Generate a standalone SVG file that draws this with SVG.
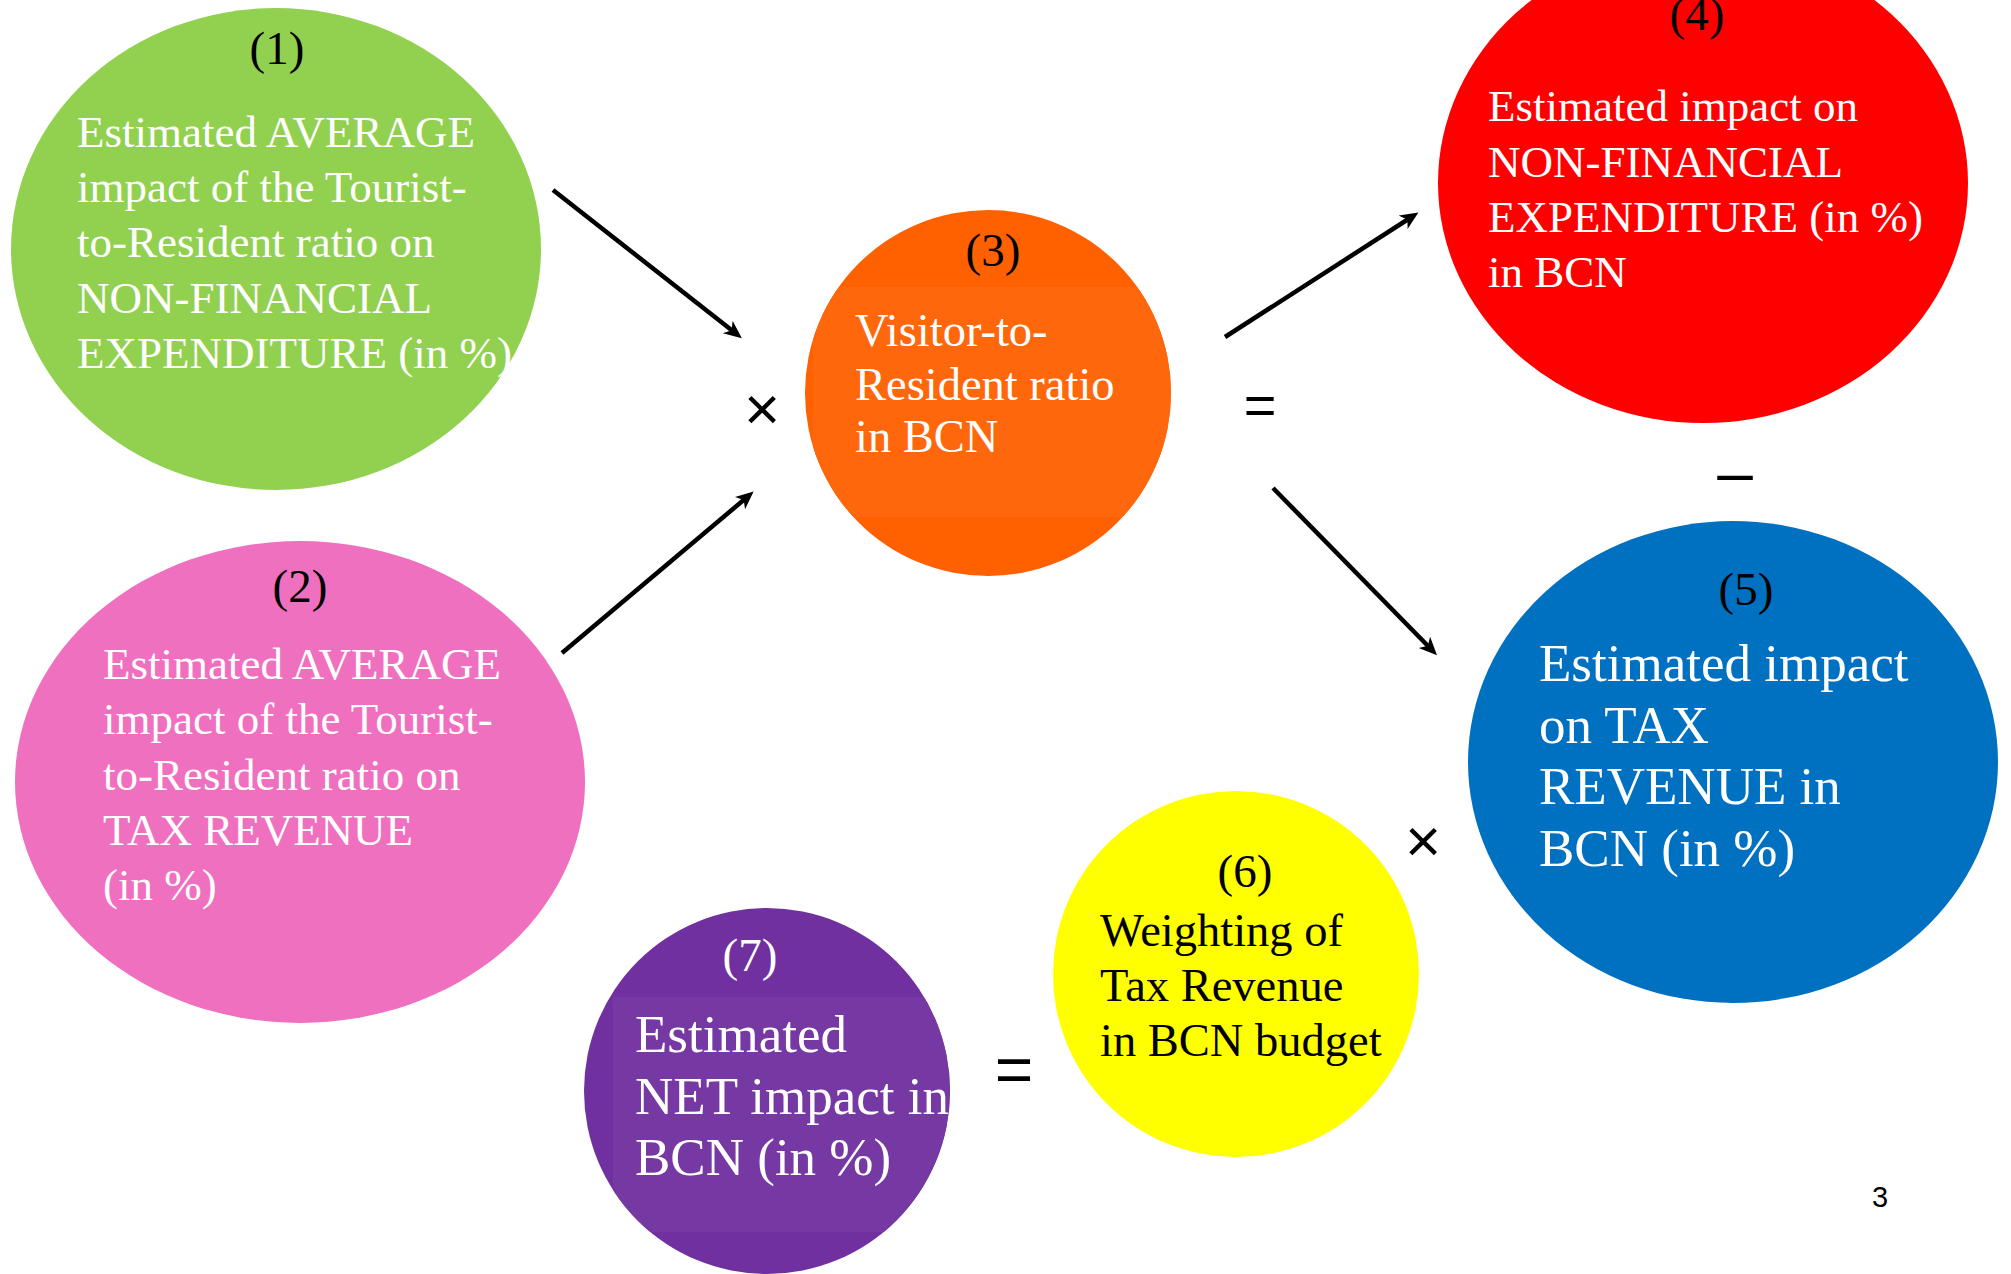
<svg xmlns="http://www.w3.org/2000/svg" width="2011" height="1274" viewBox="0 0 2011 1274">
<style>
.t{font-family:"Liberation Serif","Times New Roman",serif;font-size:45px;fill:#fff}
.t46{font-family:"Liberation Serif","Times New Roman",serif;font-size:46.5px;fill:#fff}
.tb{font-family:"Liberation Serif","Times New Roman",serif;font-size:53px;fill:#fff}
.num{font-family:"Liberation Serif","Times New Roman",serif;font-size:47px;fill:#000;text-anchor:middle}
.op{font-family:"Liberation Sans",Arial,sans-serif;fill:#000;text-anchor:middle}
.conn{stroke:#000;stroke-width:4.5;fill:none;marker-end:url(#ah)}
</style>
<defs>
<marker id="ah" markerUnits="userSpaceOnUse" markerWidth="20" markerHeight="18" refX="8" refY="8" orient="auto">
<path d="M0,0 L18,8 L0,16 L5,8 z" fill="#000"/>
</marker>
<clipPath id="c3"><circle cx="988" cy="393" r="183"/></clipPath>
<clipPath id="c7"><circle cx="767" cy="1091" r="183"/></clipPath>
</defs>
<rect width="2011" height="1274" fill="#fff"/>

<g id="node1">
<ellipse cx="276" cy="249" rx="265" ry="241" fill="#92D050"/>
<text class="num" x="277" y="64">(1)</text>
<text class="t" x="77" y="147">Estimated AVERAGE</text>
<text class="t" x="77" y="202">impact of the Tourist-</text>
<text class="t" x="77" y="257">to-Resident ratio on</text>
<text class="t" x="77" y="313">NON-FINANCIAL</text>
<text class="t" x="77" y="368">EXPENDITURE (in %)</text>
</g>

<g id="node2">
<ellipse cx="300" cy="782" rx="285" ry="241" fill="#EF70BF"/>
<text class="num" x="300" y="602">(2)</text>
<text class="t" x="103" y="679">Estimated AVERAGE</text>
<text class="t" x="103" y="734">impact of the Tourist-</text>
<text class="t" x="103" y="790">to-Resident ratio on</text>
<text class="t" x="103" y="845">TAX REVENUE</text>
<text class="t" x="103" y="900">(in %)</text>
</g>

<g id="node3">
<circle cx="988" cy="393" r="183" fill="#FF6000"/>
<rect x="813" y="287" width="360" height="230" fill="#FF670C" clip-path="url(#c3)"/>
<text class="num" x="993" y="266">(3)</text>
<text class="t46" x="855" y="346">Visitor-to-</text>
<text class="t46" x="855" y="400">Resident ratio</text>
<text class="t46" x="855" y="452">in BCN</text>
</g>

<g id="node4">
<ellipse cx="1703" cy="183" rx="265" ry="240" fill="#FF0000"/>
<text class="num" x="1697" y="30">(4)</text>
<text class="t" x="1488" y="121">Estimated impact on</text>
<text class="t" x="1488" y="177">NON-FINANCIAL</text>
<text class="t" x="1488" y="232">EXPENDITURE (in %)</text>
<text class="t" x="1488" y="287">in BCN</text>
</g>

<g id="node5">
<ellipse cx="1733" cy="762" rx="265" ry="241" fill="#0070C0"/>
<text class="num" x="1746" y="605">(5)</text>
<text class="tb" x="1539" y="681">Estimated impact</text>
<text class="tb" x="1539" y="743">on TAX</text>
<text class="tb" x="1539" y="804">REVENUE in</text>
<text class="tb" x="1539" y="866">BCN (in %)</text>
</g>

<g id="node6">
<circle cx="1236" cy="974" r="183" fill="#FFFF00"/>
<text class="num" x="1245" y="887">(6)</text>
<text class="t46" x="1100" y="946" style="fill:#000">Weighting of</text>
<text class="t46" x="1100" y="1001" style="fill:#000">Tax Revenue</text>
<text class="t46" x="1100" y="1056" style="fill:#000">in BCN budget</text>
</g>

<g id="node7">
<circle cx="767" cy="1091" r="183" fill="#7030A0"/>
<rect x="613" y="997" width="340" height="235" fill="#7638A2" clip-path="url(#c7)"/>
<text class="num" x="750" y="971" style="fill:#fff">(7)</text>
<text class="tb" x="635" y="1052">Estimated</text>
<text class="tb" x="635" y="1114">NET impact in</text>
<text class="tb" x="635" y="1175">BCN (in %)</text>
</g>

<g id="connectors">
<path class="conn" d="M553,190 L734,332"/>
<path class="conn" d="M562,653 L746,498"/>
<path class="conn" d="M1225,337 L1410,218"/>
<path class="conn" d="M1273,488 L1430,648"/>
</g>

<g id="operators">
<text class="op" x="762" y="430" font-size="62">×</text>
<text class="op" x="1260" y="424" font-size="56">=</text>
<text class="op" x="1735" y="494" font-size="64">–</text>
<text class="op" x="1423" y="862" font-size="62">×</text>
<text class="op" x="1014" y="1092" font-size="66">=</text>
</g>

<text x="1880" y="1207" font-family="Liberation Sans,Arial,sans-serif" font-size="29" text-anchor="middle" fill="#000">3</text>
</svg>
